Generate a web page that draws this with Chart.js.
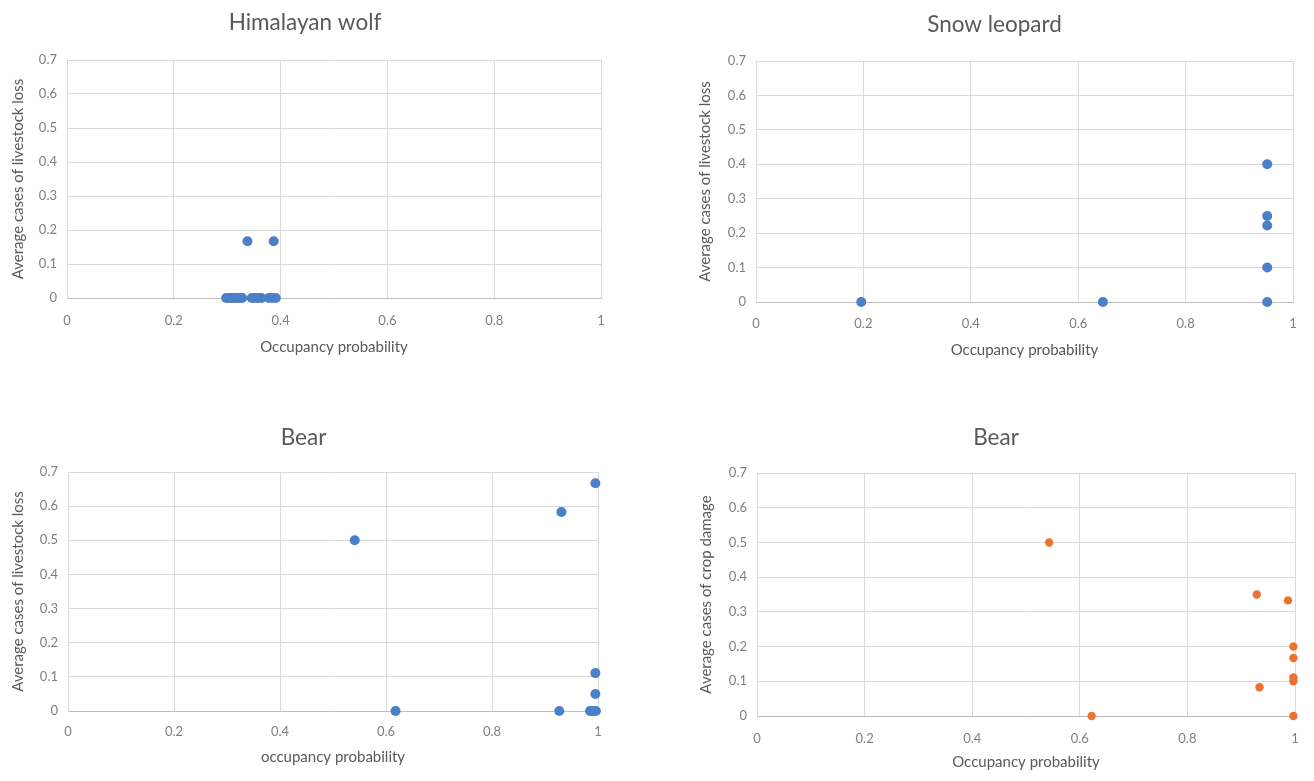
<!DOCTYPE html>
<html>
<head>
<meta charset="utf-8">
<title>Occupancy probability and conflict cases</title>
<script src="https://cdn.jsdelivr.net/npm/chart.js@4.4.1/dist/chart.umd.min.js"></script>
<style>
  html, body { margin: 0; padding: 0; background: #fff; }
  body { width: 1314px; height: 781px; position: relative; overflow: hidden; }
  canvas { position: absolute; }
</style>
</head>
<body>
<canvas id="wolfChart"></canvas>
<canvas id="leopardChart"></canvas>
<canvas id="bearLivestockChart"></canvas>
<canvas id="bearCropChart"></canvas>

<script>
// axis labels shared by all four panels
var xTickLabels = ['0', '0.2', '0.4', '0.6', '0.8', '1'];
var yTickLabels = ['0', '0.1', '0.2', '0.3', '0.4', '0.5', '0.6', '0.7'];

// Himalayan wolf - livestock loss
var wolfOcc  = [0.298, 0.303, 0.308, 0.313, 0.318, 0.323, 0.328, 0.346, 0.352, 0.358, 0.364, 0.378, 0.384, 0.391, 0.338, 0.387];
var wolfLoss = [0, 0, 0, 0, 0, 0, 0, 0, 0, 0, 0, 0, 0, 0, 0.167, 0.167];

// Snow leopard - livestock loss
var leopardOcc  = [0.196, 0.646, 0.952, 0.952, 0.952, 0.952, 0.952];
var leopardLoss = [0, 0, 0, 0.1, 0.222, 0.25, 0.4];

// Bear - livestock loss
var bearOcc  = [0.541, 0.931, 0.995, 0.618, 0.927, 0.985, 0.989, 0.992, 0.996, 0.995, 0.995];
var bearLoss = [0.5, 0.583, 0.667, 0, 0, 0, 0, 0, 0, 0.111, 0.05];

// Bear - crop damage
var cropOcc    = [0.543, 0.929, 0.987, 0.997, 0.997, 0.997, 0.997, 0.934, 0.622, 0.997];
var cropDamage = [0.5, 0.35, 0.333, 0.2, 0.167, 0.111, 0.1, 0.083, 0, 0];

var FONT = 'Lato, "Open Sans", sans-serif';
var TITLE_SIZE = 22.5, AXIS_SIZE = 15, TICK_SIZE = 13;

function toPoints(xs, ys) {
    var pts = [];
    for (var i = 0; i < xs.length; i++) {
        pts.push({ x: xs[i], y: ys[i] });
    }
    return pts;
}

// box = canvas rectangle on the page, area = wanted plot rectangle
function drowScatter(id, p) {
    var cv = document.getElementById(id);
    var w = p.box.right - p.box.left, h = p.box.bottom - p.box.top;
    cv.style.left = p.box.left + 'px';
    cv.style.top = p.box.top + 'px';
    cv.width = w;
    cv.height = h;

    var titleLh = TITLE_SIZE * 1.2, axisLh = AXIS_SIZE * 1.2, tickLh = TICK_SIZE * 1.2;
    var titleTop = p.titleY - p.box.top - titleLh / 2;
    var titleBottom = (p.area.top - p.box.top) - titleLh - titleTop;
    var yWidth = p.area.left - p.box.left;
    var xHeight = p.box.bottom - p.area.bottom;

    var config = {
        type: 'scatter',
        data: {
            datasets: [{
                label: p.label,
                data: toPoints(p.xs, p.ys),
                backgroundColor: p.color,
                borderColor: p.color,
                pointRadius: p.radius,
                pointHoverRadius: p.radius,
                borderWidth: 0,
                clip: false
            }]
        },
        options: {
            responsive: false,
            animation: false,
            events: [],
            layout: { padding: { left: 0, top: 0, right: p.box.right - p.area.right, bottom: 0 } },
            plugins: {
                legend: { display: false },
                tooltip: { enabled: false },
                title: {
                    display: true,
                    text: p.title,
                    color: '#595959',
                    font: { family: FONT, size: TITLE_SIZE, weight: 'normal' },
                    padding: { top: titleTop, bottom: titleBottom }
                }
            },
            scales: {
                x: {
                    type: 'linear',
                    min: 0, max: 1,
                    ticks: {
                        stepSize: 0.2,
                        color: '#7f7f7f',
                        font: { family: FONT, size: TICK_SIZE },
                        padding: p.tickY - p.area.bottom - tickLh / 2,
                        maxRotation: 0,
                        callback: function (v, i) { return xTickLabels[i]; }
                    },
                    grid: { color: '#d9d9d9', drawTicks: false },
                    border: { color: '#bfbfbf' },
                    title: {
                        display: true,
                        text: p.xTitle,
                        color: '#595959',
                        font: { family: FONT, size: AXIS_SIZE },
                        padding: { top: 0, bottom: p.box.bottom - p.xTitleY - axisLh / 2 }
                    },
                    afterFit: function (scale) { scale.height = xHeight; }
                },
                y: {
                    type: 'linear',
                    min: 0, max: 0.7,
                    ticks: {
                        stepSize: 0.1,
                        color: '#7f7f7f',
                        font: { family: FONT, size: TICK_SIZE },
                        padding: 10,
                        callback: function (v, i) { return yTickLabels[i]; }
                    },
                    grid: { color: '#d9d9d9', drawTicks: false },
                    border: { color: '#d9d9d9' },
                    title: {
                        display: true,
                        text: p.yTitle,
                        color: '#595959',
                        font: { family: FONT, size: AXIS_SIZE },
                        padding: { top: 0, bottom: 0 }
                    },
                    afterFit: function (scale) { scale.width = yWidth; }
                }
            }
        }
    };
    return new Chart(cv.getContext('2d'), config);
}

var BLUE = '#4a80c8', ORANGE = '#eb7330';

drowScatter('wolfChart', {
    box: { left: 9, top: 0, right: 640, bottom: 362 },
    area: { left: 67, right: 601, top: 60, bottom: 298 },
    titleY: 23, tickY: 321, xTitleY: 347,
    title: 'Himalayan wolf',
    xTitle: 'Occupancy probability',
    yTitle: 'Average cases of livestock loss',
    label: 'Himalayan wolf',
    xs: wolfOcc, ys: wolfLoss, color: BLUE, radius: 5
});

drowScatter('leopardChart', {
    box: { left: 696, top: 0, right: 1314, bottom: 366 },
    area: { left: 756, right: 1293, top: 61, bottom: 302 },
    titleY: 25, tickY: 324, xTitleY: 350,
    title: 'Snow leopard',
    xTitle: 'Occupancy probability',
    yTitle: 'Average cases of livestock loss',
    label: 'Snow leopard',
    xs: leopardOcc, ys: leopardLoss, color: BLUE, radius: 5
});

drowScatter('bearLivestockChart', {
    box: { left: 9, top: 395, right: 640, bottom: 775 },
    area: { left: 68, right: 598, top: 472, bottom: 711 },
    titleY: 438, tickY: 732, xTitleY: 757,
    title: 'Bear',
    xTitle: 'occupancy probability',
    yTitle: 'Average cases of livestock loss',
    label: 'Bear',
    xs: bearOcc, ys: bearLoss, color: BLUE, radius: 5
});

drowScatter('bearCropChart', {
    box: { left: 697, top: 395, right: 1314, bottom: 781 },
    area: { left: 757, right: 1295, top: 473, bottom: 716 },
    titleY: 438, tickY: 739, xTitleY: 762,
    title: 'Bear',
    xTitle: 'Occupancy probability',
    yTitle: 'Average cases of crop damage',
    label: 'Bear',
    xs: cropOcc, ys: cropDamage, color: ORANGE, radius: 4.2
});
</script>
</body>
</html>
